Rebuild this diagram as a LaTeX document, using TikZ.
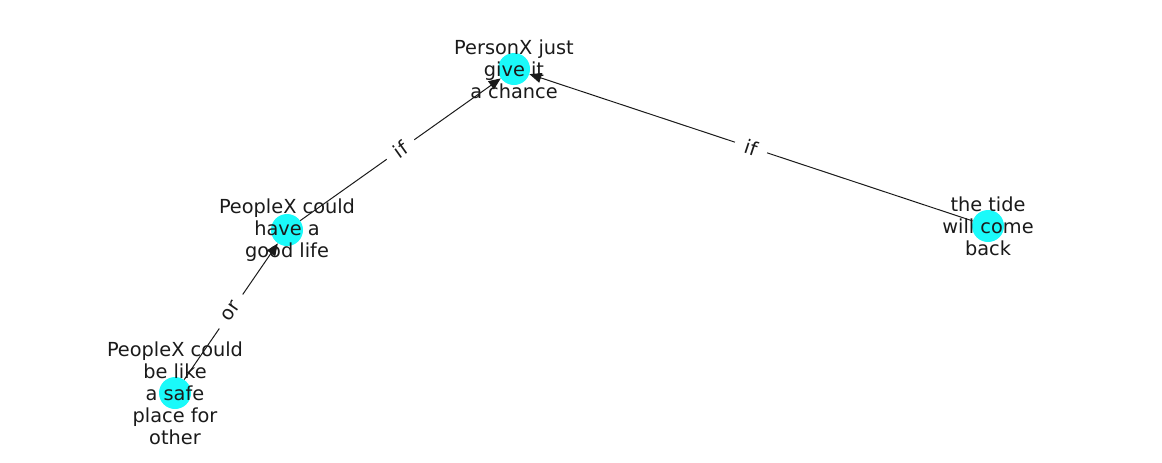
\documentclass[tikz,border=0pt]{standalone}
\usepackage{fontspec}
\setmainfont{DejaVu Sans}
\usetikzlibrary{arrows.meta}
\definecolor{nodecyan}{HTML}{1AFAFA}
\definecolor{ink}{HTML}{1A1A1A}
\tikzset{
  dot/.style={circle, fill=nodecyan, draw=none, minimum size=24pt, inner sep=0pt},
  lbl/.style={align=center, text=ink, font=\fontsize{14.5pt}{16.5pt}\selectfont, inner sep=0pt},
  edge/.style={draw=ink, line width=0.75pt, -{Triangle[length=9pt,width=7.5pt]}},
  elbl/.style={midway, sloped, fill=white, text=ink, font=\fontsize{14.5pt}{16.5pt}\selectfont, inner xsep=8pt, inner ysep=4pt}
}
\begin{document}
\begin{tikzpicture}[x=0.75pt,y=-0.75pt]
\useasboundingbox (0,0) rectangle (1162,462);
\node[dot] (a) at (514,69) {};
\node[dot] (b) at (287,230) {};
\node[dot] (c) at (175,393) {};
\node[dot] (d) at (988,226) {};
\draw[edge] (b) -- node[elbl] {if} (a);
\draw[edge] (d) -- node[elbl] {if} (a);
\draw[edge] (c) -- node[elbl] {or} (b);
\node[lbl] (ta) at (514,69) {PersonX just\\give it\\a chance};
\node[lbl] (tb) at (287,230) {PeopleX could\\have a\\good life};
\node[lbl] (tc) at (175,393) {PeopleX could\\be like\\a safe\\place for\\other};
\node[lbl] (td) at (988,226) {the tide\\will come\\back};
\end{tikzpicture}
\end{document}
